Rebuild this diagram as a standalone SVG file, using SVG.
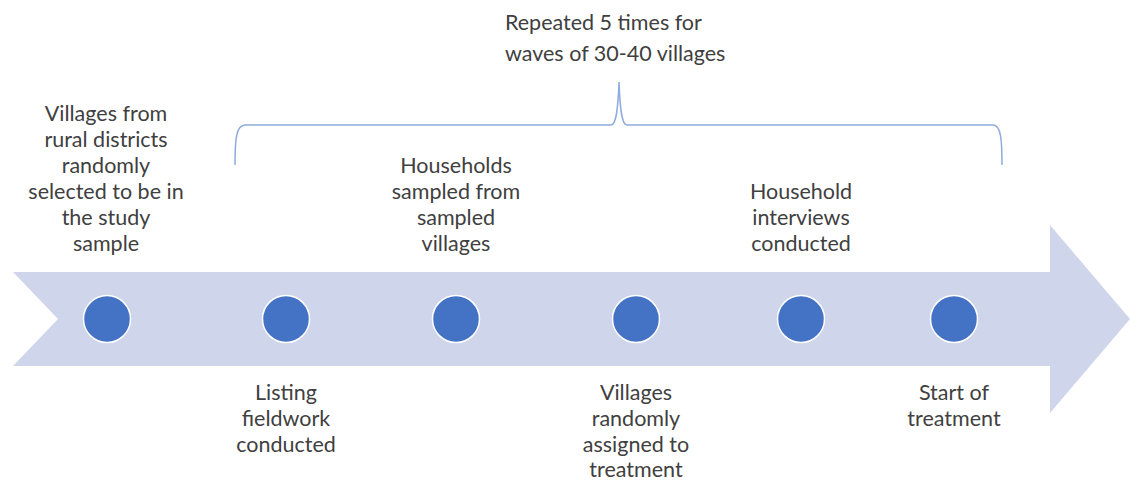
<svg xmlns="http://www.w3.org/2000/svg" width="1130" height="480" viewBox="0 0 1130 480">
<style>
.lbl{font-family:"Lato","Open Sans",sans-serif;font-size:21.5px;fill:#404040;text-anchor:middle}
.left{text-anchor:start}
.dot{fill:#4472C4;stroke:#ffffff;stroke-width:1.5}
.brace{fill:none;stroke:#8FAADC;stroke-width:1.5}
</style>
<rect width="1130" height="480" fill="#ffffff"/>
<g id="timeline">
<polygon points="13,272 1050,272 1050,225 1130,319 1050,413 1050,366 13,366 58,319" fill="#CFD5EA"/>
</g>
<g id="connectors">
<path class="brace" d="M235,165 C235,140 236,125 245,125 L611,125 C616,125 618,110 619,82 C620,110 622,125 627,125 L993,125 C1001,125 1002,140 1002,165"/>
</g>
<g id="n1"><circle class="dot" cx="107" cy="319" r="23.5"/>
<text class="lbl"><tspan x="106" y="121">Villages from</tspan><tspan x="106" y="147">rural districts</tspan><tspan x="106" y="173">randomly</tspan><tspan x="106" y="199">selected to be in</tspan><tspan x="106" y="225">the study</tspan><tspan x="106" y="251">sample</tspan></text></g>
<g id="n2"><circle class="dot" cx="286" cy="319" r="23.5"/>
<text class="lbl"><tspan x="286" y="400">Listing</tspan><tspan x="286" y="426">fieldwork</tspan><tspan x="286" y="452">conducted</tspan></text></g>
<g id="n3"><circle class="dot" cx="456" cy="319" r="23.5"/>
<text class="lbl"><tspan x="456" y="173">Households</tspan><tspan x="456" y="199">sampled from</tspan><tspan x="456" y="225">sampled</tspan><tspan x="456" y="251">villages</tspan></text></g>
<g id="n4"><circle class="dot" cx="636" cy="319" r="23.5"/>
<text class="lbl"><tspan x="636" y="400">Villages</tspan><tspan x="636" y="426">randomly</tspan><tspan x="636" y="452">assigned to</tspan><tspan x="636" y="477">treatment</tspan></text></g>
<g id="n5"><circle class="dot" cx="801" cy="319" r="23.5"/>
<text class="lbl"><tspan x="801" y="199">Household</tspan><tspan x="801" y="225">interviews</tspan><tspan x="801" y="251">conducted</tspan></text></g>
<g id="n6"><circle class="dot" cx="954" cy="319" r="23.5"/>
<text class="lbl"><tspan x="954" y="400">Start of</tspan><tspan x="954" y="426">treatment</tspan></text></g>
<g id="repeat"><text class="lbl left"><tspan x="505" y="30">Repeated 5 times for</tspan><tspan x="505" y="61">waves of 30-40 villages</tspan></text></g>
</svg>
